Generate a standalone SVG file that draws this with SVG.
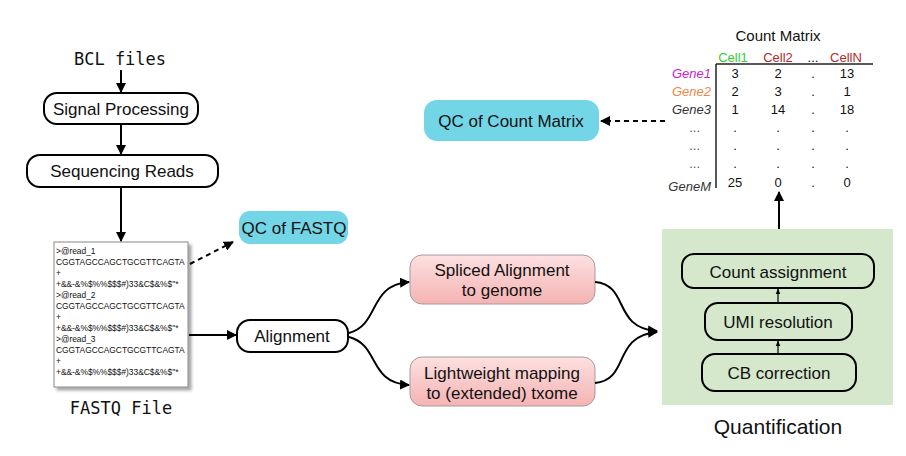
<svg xmlns="http://www.w3.org/2000/svg" width="906" height="456" viewBox="0 0 906 456">
<style>
text{font-family:"Liberation Sans",Arial,sans-serif;fill:#111}
.lbl{font-size:17px;text-anchor:middle}
.mono{font-family:"DejaVu Sans Mono",monospace;font-size:17px;text-anchor:middle}
.box{fill:#fff;stroke:#000;stroke-width:2}
.pink{fill:url(#pg);stroke:#a89a9a;stroke-width:1}
.qc{fill:#72d6e6}
.sub{fill:#d5e8cc;stroke:#000;stroke-width:2}
.fq{font-size:8.4px}
.cm{font-size:13px;text-anchor:middle}
.gn{font-size:13px;font-style:italic;text-anchor:end}
.ln{fill:none;stroke:#000;stroke-width:2}
.dash{fill:none;stroke:#000;stroke-width:2;stroke-dasharray:5,4}
</style>
<defs>
<linearGradient id="pg" x1="0" y1="0" x2="0" y2="1"><stop offset="0" stop-color="#fde0e0"/><stop offset="1" stop-color="#f5b3b3"/></linearGradient>
<marker id="ah" viewBox="0 0 10 10" refX="9" refY="5" markerWidth="5" markerHeight="5" orient="auto"><path d="M0,0L10,5L0,10z" fill="#000"/></marker>
<marker id="sh" viewBox="0 0 10 10" refX="9" refY="5" markerWidth="5" markerHeight="5" orient="auto"><path d="M0,1L10,5L0,9z" fill="#000"/></marker>
<filter id="ds" x="-10%" y="-10%" width="130%" height="130%"><feDropShadow dx="3" dy="3" stdDeviation="1.5" flood-color="#000" flood-opacity="0.35"/></filter>
</defs>

<g id="bcl"><text class="mono" x="120" y="65">BCL files</text></g>

<g id="signal"><rect class="box" x="44" y="93" width="154" height="31" rx="13"/><text class="lbl" x="121" y="115">Signal Processing</text></g>

<g id="seqreads"><rect class="box" x="27" y="155" width="191" height="32" rx="13"/><text class="lbl" x="122" y="177">Sequencing Reads</text></g>

<g id="fastq">
<rect x="54" y="242" width="134" height="145" fill="#fff" stroke="#888" stroke-width="1" filter="url(#ds)"/>
<text class="fq" x="56" y="254">&gt;@read_1</text>
<text class="fq" x="56" y="265">CGGTAGCCAGCTGCGTTCAGTA</text>
<text class="fq" x="56" y="276">+</text>
<text class="fq" x="56" y="287">+&amp;&amp;-&amp;%$%%$$$#)33&amp;C$&amp;%$"*</text>
<text class="fq" x="56" y="298">&gt;@read_2</text>
<text class="fq" x="56" y="309">CGGTAGCCAGCTGCGTTCAGTA</text>
<text class="fq" x="56" y="320">+</text>
<text class="fq" x="56" y="331">+&amp;&amp;-&amp;%$%%$$$#)33&amp;C$&amp;%$"*</text>
<text class="fq" x="56" y="342">&gt;@read_3</text>
<text class="fq" x="56" y="353">CGGTAGCCAGCTGCGTTCAGTA</text>
<text class="fq" x="56" y="364">+</text>
<text class="fq" x="56" y="375">+&amp;&amp;-&amp;%$%%$$$#)33&amp;C$&amp;%$"*</text>
<text class="mono" x="121" y="414">FASTQ File</text>
</g>

<g id="qcfastq"><rect class="qc" x="239" y="211" width="109" height="33" rx="11"/><text class="lbl" x="294" y="234">QC of FASTQ</text></g>

<g id="alignment"><rect class="box" x="237" y="320" width="111" height="32" rx="13"/><text class="lbl" x="292" y="342">Alignment</text></g>

<g id="spliced"><rect class="pink" x="410" y="255" width="185" height="49" rx="12"/><text class="lbl" x="502" y="276">Spliced Alignment</text><text class="lbl" x="502" y="296">to genome</text></g>

<g id="lightweight"><rect class="pink" x="410" y="357" width="185" height="49" rx="12"/><text class="lbl" x="502" y="379">Lightweight mapping</text><text class="lbl" x="502" y="399">to (extended) txome</text></g>

<g id="quantification">
<rect x="662" y="229" width="231" height="176" fill="#d5e8cc"/>
<text x="778" y="434" font-size="21" text-anchor="middle" fill="#222">Quantification</text>
</g>

<g id="countassign"><rect class="sub" x="682" y="254" width="192" height="34" rx="12"/><text class="lbl" x="778" y="278">Count assignment</text></g>
<g id="umi"><rect class="sub" x="705" y="303" width="147" height="37" rx="13"/><text class="lbl" x="778" y="328">UMI resolution</text></g>
<g id="cb"><rect class="sub" x="702" y="354" width="154" height="37" rx="13"/><text class="lbl" x="779" y="379">CB correction</text></g>

<g id="qccount"><rect class="qc" x="424" y="100" width="175" height="41" rx="13"/><text class="lbl" x="511" y="127">QC of Count Matrix</text></g>

<g id="countmatrix">
<text x="778" y="41" font-size="15" text-anchor="middle">Count Matrix</text>
<text class="cm" x="733" y="62" style="fill:#33cc33">Cell1</text>
<text class="cm" x="778" y="62" style="fill:#b52a2a">Cell2</text>
<text class="cm" x="813" y="62">...</text>
<text class="cm" x="846" y="62" style="fill:#b52a2a">CellN</text>
<path d="M716,64H873M716,64V188" stroke="#222" stroke-width="1.5" fill="none"/>
<text class="gn" x="711" y="78" style="fill:#cc22cc">Gene1</text>
<text class="gn" x="711" y="96" style="fill:#ee8844">Gene2</text>
<text class="gn" x="711" y="114" style="fill:#333">Gene3</text>
<text class="gn" x="700" y="132" style="fill:#555;font-style:normal">...</text>
<text class="gn" x="700" y="150" style="fill:#555;font-style:normal">...</text>
<text class="gn" x="700" y="168" style="fill:#555;font-style:normal">...</text>
<text class="gn" x="711" y="191" style="fill:#333">GeneM</text>
<text class="cm" x="735" y="78">3</text><text class="cm" x="778" y="78">2</text><text class="cm" x="813" y="78">.</text><text class="cm" x="847" y="78">13</text>
<text class="cm" x="735" y="96">2</text><text class="cm" x="778" y="96">3</text><text class="cm" x="813" y="96">.</text><text class="cm" x="847" y="96">1</text>
<text class="cm" x="735" y="114">1</text><text class="cm" x="778" y="114">14</text><text class="cm" x="813" y="114">.</text><text class="cm" x="847" y="114">18</text>
<text class="cm" x="735" y="132">.</text><text class="cm" x="778" y="132">.</text><text class="cm" x="813" y="132">.</text><text class="cm" x="847" y="132">.</text>
<text class="cm" x="735" y="150">.</text><text class="cm" x="778" y="150">.</text><text class="cm" x="813" y="150">.</text><text class="cm" x="847" y="150">.</text>
<text class="cm" x="735" y="168">.</text><text class="cm" x="778" y="168">.</text><text class="cm" x="813" y="168">.</text><text class="cm" x="847" y="168">.</text>
<text class="cm" x="735" y="187">25</text><text class="cm" x="778" y="187">0</text><text class="cm" x="813" y="187">.</text><text class="cm" x="847" y="187">0</text>
</g>

<g id="connectors">
<line class="ln" x1="121" y1="70" x2="121" y2="92" marker-end="url(#ah)"/>
<line class="ln" x1="121" y1="124" x2="121" y2="154" marker-end="url(#ah)"/>
<line class="ln" x1="121" y1="187" x2="121" y2="241" marker-end="url(#ah)"/>
<line class="dash" x1="190" y1="264" x2="233" y2="242" marker-end="url(#ah)"/>
<line class="ln" x1="189" y1="335" x2="236" y2="335" marker-end="url(#ah)"/>
<path class="ln" d="M349,333C380,325 368,285 409,282" marker-end="url(#ah)"/>
<path class="ln" d="M349,337C380,345 368,383 409,385" marker-end="url(#ah)"/>
<path class="ln" d="M595,282C630,285 612,328 657,331" marker-end="url(#ah)"/>
<path class="ln" d="M595,383C630,380 612,336 657,332" marker-end="url(#ah)"/>
<line class="ln" x1="779" y1="229" x2="779" y2="192" marker-end="url(#ah)"/>
<line class="dash" x1="665" y1="121" x2="601" y2="121" marker-end="url(#ah)"/>
<line x1="778" y1="303" x2="778" y2="289" stroke="#000" stroke-width="1.2" marker-end="url(#sh)"/>
<line x1="778" y1="354" x2="778" y2="341" stroke="#000" stroke-width="1.2" marker-end="url(#sh)"/>
</g>
</svg>
